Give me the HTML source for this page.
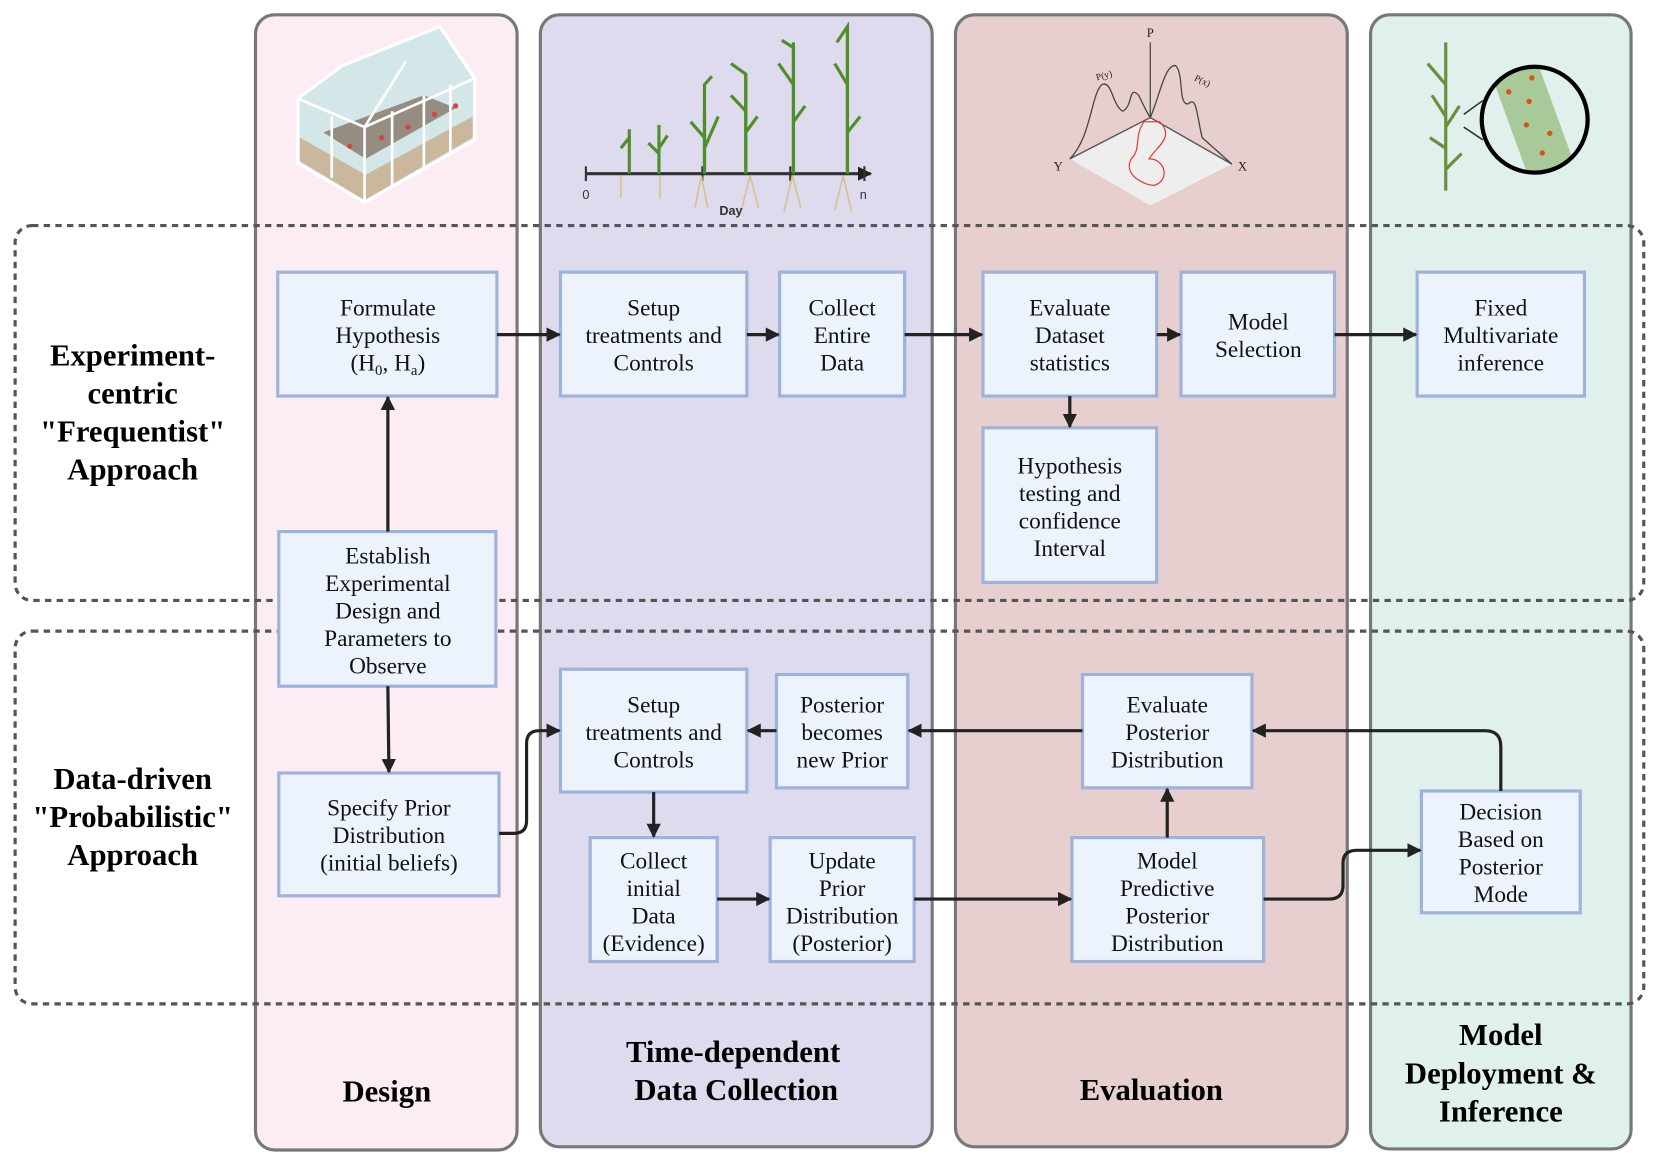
<!DOCTYPE html>
<html><head><meta charset="utf-8"><style>
html,body{margin:0;padding:0;background:#fff}
svg{display:block}
.bx{fill:#edf3fc;stroke:#9db2dc;stroke-width:3}
.t{font-family:"Liberation Serif",serif;font-size:22px;fill:#111;text-anchor:middle}
.b{font-family:"Liberation Serif",serif;font-size:29px;font-weight:bold;fill:#000;text-anchor:middle}
.a{stroke:#222;stroke-width:3;fill:none}
.pn{stroke:#777;stroke-width:3}
.ds{fill:none;stroke:#555;stroke-width:3;stroke-dasharray:6 5}
.s{font-family:"Liberation Serif",serif;fill:#222;text-anchor:middle}
</style></head><body>
<svg width="1661" height="1168" viewBox="0 0 1568 1103" xmlns="http://www.w3.org/2000/svg">
<defs><marker id="m" viewBox="0 0 10 10" refX="9" refY="5" markerWidth="4.5" markerHeight="4.5" orient="auto"><path d="M0,0L10,5L0,10z" fill="#222"/></marker></defs>
<rect width="1568" height="1103" fill="#fff"/>
<rect class="pn" x="241" y="14" width="247" height="1072" rx="18" fill="#fcedf4"/>
<rect class="pn" x="510" y="14" width="370" height="1069" rx="18" fill="#dedbee"/>
<rect class="pn" x="902" y="14" width="370" height="1069" rx="18" fill="#e6cfce"/>
<rect class="pn" x="1294" y="14" width="246" height="1071" rx="18" fill="#e0f0ec"/>
<rect class="ds" x="14" y="213" width="1538" height="354" rx="16"/>
<rect class="ds" x="14" y="596" width="1538" height="352" rx="16"/>

<!-- greenhouse -->
<polygon points="281,93 323,62 415,25 448,74 448,132 344,191 281,154" fill="#d3e6e8" stroke="#fff" stroke-width="3"/>
<polygon points="283,130 345,165 446,110 446,130 344,189 283,152" fill="#cbb89c"/>
<polygon points="305,125 345,150 430,102 400,90" fill="#7a6656" opacity=".7"/>
<path d="M344,191V120L383,58M344,120L448,74M281,93L344,120M313,110V168M370,105V176M400,90V160M425,80V145" stroke="#fff" stroke-width="2.5" fill="none"/>
<g fill="#d9443a"><circle cx="330" cy="138" r="2.5"/><circle cx="360" cy="130" r="2.5"/><circle cx="385" cy="120" r="2.5"/><circle cx="410" cy="108" r="2.5"/><circle cx="430" cy="100" r="2.5"/></g>

<!-- plants timeline -->
<line x1="553" y1="164" x2="822" y2="164" stroke="#333" stroke-width="3" marker-end="url(#m)"/>
<g stroke="#333" stroke-width="2"><line x1="553" y1="157" x2="553" y2="171"/><line x1="663" y1="157" x2="663" y2="171"/><line x1="746" y1="157" x2="746" y2="171"/><line x1="816" y1="157" x2="816" y2="171"/></g>
<g stroke="#4f8f2a" stroke-width="3" fill="none">
<path d="M594,164V122M586,140L594,130M622,164V118M612,135L622,145M630,128L622,140M665,164V105M652,115L665,130M678,110L665,140M704,164V70M690,90L704,105M715,110L704,125M749,164V40M735,60L749,80M760,100L749,115M800,164V25M788,60L800,80M812,110L800,125"/>
<path d="M665,164V80L672,72M704,164V70L690,60M749,164V45L738,38M800,164V25L790,40"/>
</g>
<g stroke="#d8c08a" stroke-width="1.5" fill="none"><path d="M586,166v20M623,166v22M662,166l-6,30M662,166l6,30M708,166l-8,32M708,166l8,30M748,166l-8,34M748,166l8,30M796,166l-8,32M796,166l8,34"/></g>
<text x="553" y="188" font-family="Liberation Sans,sans-serif" font-size="12" fill="#333" text-anchor="middle">0</text>
<text x="815" y="188" font-family="Liberation Sans,sans-serif" font-size="12" fill="#333" text-anchor="middle">n</text>
<text x="690" y="203" font-family="Liberation Sans,sans-serif" font-size="12" font-weight="bold" fill="#333" text-anchor="middle">Day</text>

<!-- 3D plot -->
<polygon points="1086,111 1163,155 1086,194 1010,150" fill="#eeeeee"/>
<path d="M1086,40V111L1010,150M1086,111L1163,155" stroke="#555" stroke-width="1.3" fill="none"/>
<path d="M1010,150C1030,130 1030,90 1040,80C1050,75 1050,100 1060,105C1070,100 1065,80 1075,90C1080,100 1082,105 1086,111" stroke="#444" stroke-width="1.2" fill="none"/>
<path d="M1086,111C1095,90 1100,60 1110,62C1118,70 1112,100 1122,98C1130,90 1130,110 1135,130L1163,155" stroke="#444" stroke-width="1.2" fill="none"/>
<path d="M1080,115C1070,130 1078,140 1068,150C1060,165 1080,175 1090,175C1105,170 1100,150 1085,150C1090,140 1110,130 1095,115Z" stroke="#e04040" stroke-width="1.2" fill="none"/>
<text x="1086" y="35" class="s" style="font-size:12px">P</text>
<text x="999" y="161" class="s" style="font-size:12px">Y</text>
<text x="1173" y="161" class="s" style="font-size:12px">X</text>
<text x="1043" y="74" class="s" style="font-size:9px" transform="rotate(-15 1043 74)">P(y)</text>
<text x="1134" y="79" class="s" style="font-size:9px" transform="rotate(25 1134 79)">P(x)</text>

<!-- deploy illustration -->
<path d="M1365,180V40M1365,80L1348,60M1365,110L1352,90M1365,140L1350,130M1365,120L1378,100M1365,160L1380,145" stroke="#6b8f3a" stroke-width="3" fill="none"/>
<path d="M1382,108L1400,95M1382,120L1400,132" stroke="#333" stroke-width="1.5"/>
<clipPath id="cc"><circle cx="1449" cy="113" r="49"/></clipPath>
<g clip-path="url(#cc)"><g transform="rotate(-20 1449 113)"><rect x="1425" y="45" width="45" height="140" fill="#a8c99a"/><g fill="#d9540f"><circle cx="1435" cy="80" r="2.5"/><circle cx="1450" cy="95" r="2.5"/><circle cx="1440" cy="115" r="2.5"/><circle cx="1458" cy="130" r="2.5"/><circle cx="1445" cy="145" r="2.5"/><circle cx="1460" cy="75" r="2.5"/></g></g></g>
<circle cx="1449" cy="113" r="50" fill="none" stroke="#000" stroke-width="4"/>

<!-- boxes -->
<rect class="bx" x="262" y="257" width="207" height="117"/>
<rect class="bx" x="263" y="502" width="205" height="146"/>
<rect class="bx" x="263" y="730" width="208" height="116"/>
<rect class="bx" x="529" y="257" width="176" height="117"/>
<rect class="bx" x="736" y="257" width="118" height="117"/>
<rect class="bx" x="928" y="257" width="164" height="117"/>
<rect class="bx" x="1115" y="257" width="145" height="117"/>
<rect class="bx" x="928" y="404" width="164" height="146"/>
<rect class="bx" x="1338" y="257" width="158" height="117"/>
<rect class="bx" x="529" y="632" width="176" height="116"/>
<rect class="bx" x="733" y="637" width="124" height="107"/>
<rect class="bx" x="1022" y="637" width="160" height="107"/>
<rect class="bx" x="557" y="791" width="120" height="117"/>
<rect class="bx" x="727" y="791" width="136" height="117"/>
<rect class="bx" x="1012" y="791" width="181" height="117"/>
<rect class="bx" x="1342" y="747" width="150" height="115"/>

<g class="t">
<text x="366" y="298">Formulate</text><text x="366" y="324">Hypothesis</text><text x="366" y="350">(H<tspan font-size="14" dy="4">0</tspan><tspan dy="-4">, H</tspan><tspan font-size="14" dy="4">a</tspan><tspan dy="-4">)</tspan></text>
<text x="366" y="532">Establish</text><text x="366" y="558">Experimental</text><text x="366" y="584">Design and</text><text x="366" y="610">Parameters to</text><text x="366" y="636">Observe</text>
<text x="367" y="770">Specify Prior</text><text x="367" y="796">Distribution</text><text x="367" y="822">(initial beliefs)</text>
<text x="617" y="298">Setup</text><text x="617" y="324">treatments and</text><text x="617" y="350">Controls</text>
<text x="795" y="298">Collect</text><text x="795" y="324">Entire</text><text x="795" y="350">Data</text>
<text x="1010" y="298">Evaluate</text><text x="1010" y="324">Dataset</text><text x="1010" y="350">statistics</text>
<text x="1188" y="311">Model</text><text x="1188" y="337">Selection</text>
<text x="1010" y="447">Hypothesis</text><text x="1010" y="473">testing and</text><text x="1010" y="499">confidence</text><text x="1010" y="525">Interval</text>
<text x="1417" y="298">Fixed</text><text x="1417" y="324">Multivariate</text><text x="1417" y="350">inference</text>
<text x="617" y="673">Setup</text><text x="617" y="699">treatments and</text><text x="617" y="725">Controls</text>
<text x="795" y="673">Posterior</text><text x="795" y="699">becomes</text><text x="795" y="725">new Prior</text>
<text x="1102" y="673">Evaluate</text><text x="1102" y="699">Posterior</text><text x="1102" y="725">Distribution</text>
<text x="617" y="820">Collect</text><text x="617" y="846">initial</text><text x="617" y="872">Data</text><text x="617" y="898">(Evidence)</text>
<text x="795" y="820">Update</text><text x="795" y="846">Prior</text><text x="795" y="872">Distribution</text><text x="795" y="898">(Posterior)</text>
<text x="1102" y="820">Model</text><text x="1102" y="846">Predictive</text><text x="1102" y="872">Posterior</text><text x="1102" y="898">Distribution</text>
<text x="1417" y="774">Decision</text><text x="1417" y="800">Based on</text><text x="1417" y="826">Posterior</text><text x="1417" y="852">Mode</text>
</g>

<g class="a" marker-end="url(#m)">
<path d="M469,316H528"/><path d="M705,316H735"/><path d="M854,316H927"/><path d="M1092,316H1114"/><path d="M1260,316H1337"/>
<path d="M1010,374V403"/><path d="M366,502V375"/><path d="M366,648L367,729"/>
<path d="M471,787H485Q497,787 497,775V702Q497,690 509,690H528"/>
<path d="M733,690H706"/><path d="M1022,690H858"/><path d="M617,748V790"/>
<path d="M677,849H726"/><path d="M863,849H1011"/><path d="M1102,791V745"/>
<path d="M1193,849H1255Q1268,849 1268,836V815Q1268,803 1281,803H1341"/>
<path d="M1417,747V705Q1417,690 1402,690H1183"/>
</g>

<g class="b">
<text x="125" y="345">Experiment-</text><text x="125" y="381">centric</text><text x="125" y="417">"Frequentist"</text><text x="125" y="453">Approach</text>
<text x="125" y="745">Data-driven</text><text x="125" y="781">"Probabilistic"</text><text x="125" y="817">Approach</text>
<text x="365" y="1040">Design</text>
<text x="692" y="1003">Time-dependent</text><text x="695" y="1039">Data Collection</text>
<text x="1087" y="1039">Evaluation</text>
<text x="1417" y="987">Model</text><text x="1417" y="1023">Deployment &amp;</text><text x="1417" y="1059">Inference</text>
</g>
</svg>
</body></html>
